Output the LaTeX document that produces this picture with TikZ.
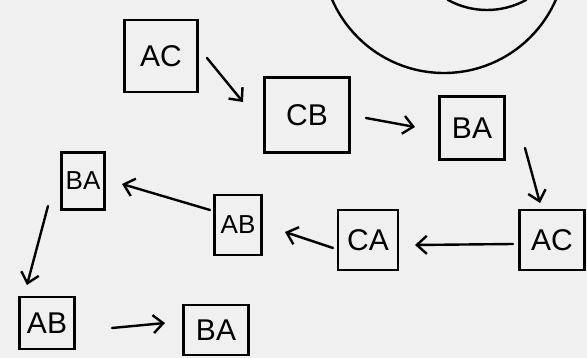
\documentclass[tikz,border=0pt]{standalone}
\usepackage{fontspec}
\setmainfont{Liberation Sans}
\usetikzlibrary{arrows.meta}
\begin{document}
\begin{tikzpicture}[x=1pt,y=-1pt,
  box/.style={draw=black,line width=2.4pt,inner sep=0pt,font=\fontsize{30}{30}\selectfont},
  small/.style={font=\fontsize{26}{26}\selectfont},
  conn/.style={line width=2.4pt,-{Straight Barb[length=10pt,width=18pt,line width=2.4pt]}},
  line cap=round]
\useasboundingbox[fill=black!6] (0,0) rectangle (587,358);
\draw[line width=2.4pt] (444,-49) circle (122);
\draw[line width=2.4pt] (487,-71) ++(119:81) arc[start angle=119,end angle=61,radius=81];
\node[box,minimum width=73pt,minimum height=72pt] (ac1) at (161,56) {AC};
\node[box,minimum width=85pt,minimum height=75pt] (cb) at (307,115) {CB};
\node[box,minimum width=65pt,minimum height=63pt] (ba1) at (472,128) {BA};
\node[box,minimum width=65pt,minimum height=60pt] (ac2) at (552,240) {AC};
\node[box,minimum width=60pt,minimum height=60pt] (ca) at (368,240) {CA};
\node[box,small,minimum width=47pt,minimum height=60pt] (ab1) at (238,225) {AB};
\node[box,small,minimum width=43pt,minimum height=57pt] (ba2) at (83,181) {BA};
\node[box,minimum width=55pt,minimum height=52pt] (ab2) at (47,323) {AB};
\node[box,minimum width=65pt,minimum height=50pt] (ba3) at (216,330) {BA};
\coordinate (a1) at (207,58); \coordinate (b1) at (243,102);
\coordinate (a2) at (366,118); \coordinate (b2) at (415,127);
\coordinate (a3) at (525,148); \coordinate (b3) at (540,203);
\coordinate (a4) at (513,244); \coordinate (b4) at (415,245);
\coordinate (a5) at (333,248); \coordinate (b5) at (285,232);
\coordinate (a6) at (210,210); \coordinate (b6) at (122,184);
\coordinate (a7) at (48,206); \coordinate (b7) at (27,285);
\coordinate (a8) at (112,328); \coordinate (b8) at (165,323);
\draw[conn] (a1) -- (b1);
\draw[conn] (a2) -- (b2);
\draw[conn] (a3) -- (b3);
\draw[conn] (a4) -- (b4);
\draw[conn] (a5) -- (b5);
\draw[conn] (a6) -- (b6);
\draw[conn] (a7) -- (b7);
\draw[conn] (a8) -- (b8);
\end{tikzpicture}
\end{document}
